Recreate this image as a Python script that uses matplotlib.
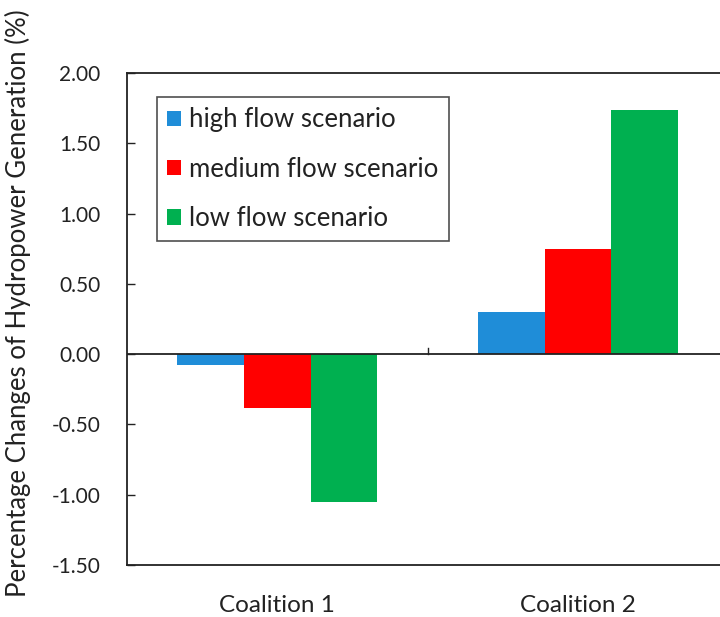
"""
Percentage changes of hydropower generation by coalition and flow scenario.
"""

import matplotlib
matplotlib.use('Agg')
import matplotlib.pyplot as plt
import numpy as np

plt.rcParams['font.family'] = ['Lato', 'DejaVu Sans']

coalitions = ['Coalition 1', 'Coalition 2']
scenarios = ['high flow scenario', 'medium flow scenario', 'low flow scenario']
high_flow = [-0.08, 0.30]
medium_flow = [-0.38, 0.75]
low_flow = [-1.05, 1.74]
colors = ['#1F8DD8', '#FF0000', '#00B050']

fig = plt.figure(figsize=(7.2, 6.17), dpi=100)
ax = fig.add_axes([0.1764, 0.0843, 0.835, 0.7974])

x = np.arange(len(coalitions))
width = 0.222
for i, (vals, label, color) in enumerate(zip([high_flow, medium_flow, low_flow], scenarios, colors)):
    ax.bar(x + (i - 1) * width, vals, width, color=color, label=label, zorder=2)

ax.set_xlim(-0.5, 1.5)
ax.set_ylim(-1.5, 2.0)
ax.set_yticks(np.arange(-1.5, 2.01, 0.5))
ax.set_yticklabels([f'{v:.2f}' for v in np.arange(-1.5, 2.01, 0.5)])
ax.tick_params(axis='y', direction='in', length=6, width=1, pad=19, labelsize=15, colors='#222222')

# category axis sits at zero; labels go below the plot area
ax.set_xticks([])
ax.axhline(0, color='#222222', linewidth=1.3, zorder=3)
for b in [0.5]:
    ax.plot([b, b], [0, 0.045], color='#222222', linewidth=1, zorder=3)
for xi, name in zip(x, coalitions):
    ax.text(xi, -1.5 - 0.285, name, ha='center', va='center', fontsize=17.5, color='#222222')

for side in ['left', 'top', 'bottom', 'right']:
    ax.spines[side].set_linewidth(1.3)
    ax.spines[side].set_color('#222222')

fig.text(18 / 720, 1 - 303 / 617, 'Percentage Changes of Hydropower Generation (%)',
         rotation=90, ha='center', va='center', fontsize=18.5, color='#222222')

leg = ax.legend(loc='upper left', bbox_to_anchor=(0.05, 0.951), fontsize=18.5, frameon=True,
                fancybox=False, edgecolor='#222222', handlelength=0.55, handleheight=0.55,
                handletextpad=0.3, labelspacing=0.95, borderpad=0.4, borderaxespad=0)
leg.get_frame().set_linewidth(1.2)
for t in leg.get_texts():
    t.set_color('#222222')

fig.savefig('out.png', dpi=100)
plt.close(fig)
